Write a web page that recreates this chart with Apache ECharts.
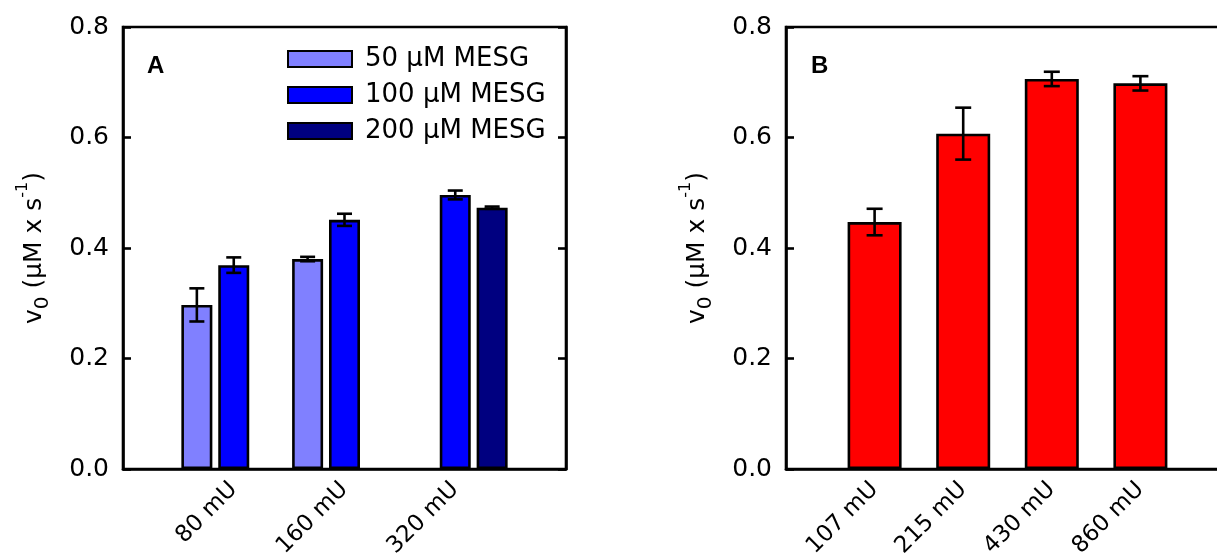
<!DOCTYPE html>
<html>
<head>
<meta charset="utf-8">
<script src="https://cdn.jsdelivr.net/npm/echarts@6/dist/echarts.min.js"></script>
<style>
  html, body { margin: 0; padding: 0; background: #fff; }
  #main { width: 1217px; height: 558px; }
</style>
</head>
<body>
<div id="main"></div>
<script>
// panel A: enzyme amount vs MESG concentration
const catsA = ["80 mU", "160 mU", "320 mU"];
const mesg50 = [0.297, 0.380, "-"];
const mesg50Err = [0.030, 0.004, "-"];
const mesg100 = [0.369, 0.451, 0.496];
const mesg100Err = [0.014, 0.011, 0.008];
const mesg200 = ["-", "-", 0.473];
const mesg200Err = ["-", "-", 0.002];

// panel B
const catsB = ["107 mU", "215 mU", "430 mU", "860 mU"];
const valuesB = [0.447, 0.607, 0.706, 0.698];
const errB = [0.024, 0.047, 0.013, 0.013];

const yTicks = [0, 0.2, 0.4, 0.6, 0.8];

const FONT = "DejaVu Sans";
const LW = 2.6;
const pad = (arr) => ["-", ...arr, "-"];
const padCats = (arr) => ["", ...arr, ""];

const barWA = 31, gapA = 0.19;
const barWB = 54;

function errorSeries(name, cats, vals, errs, xIdx, offset, cap) {
	const data = [];
	cats.forEach((c, i) => {
		if (vals[i] === "-") return;
		data.push([c, vals[i], errs[i]]);
	});
	return {
		type: "custom",
		name,
		xAxisIndex: xIdx,
		yAxisIndex: xIdx * 2,
		z: 5,
		encode: { x: 0, y: 1 },
		renderItem: (params, api) => {
			const v = api.value(1);
			const e = api.value(2);
			const hi = api.coord([api.value(0), v + e]);
			const lo = api.coord([api.value(0), v - e]);
			const x = hi[0] + offset;
			const style = { stroke: "#000", lineWidth: LW };
			return {
				type: "group",
				children: [
					{ type: "line", shape: { x1: x, y1: hi[1], x2: x, y2: lo[1] }, style },
					{ type: "line", shape: { x1: x - cap / 2, y1: hi[1], x2: x + cap / 2, y2: hi[1] }, style },
					{ type: "line", shape: { x1: x - cap / 2, y1: lo[1], x2: x + cap / 2, y2: lo[1] }, style },
				],
			};
		},
		data,
	};
}

const yName = "{m|v}{sub|0}{m| (\u00b5M x s}{sup|-1}{m|)}";
const yNameStyle = {
	color: "#000",
	rich: {
		m: { fontFamily: FONT, fontSize: 25, color: "#000", lineHeight: 38, verticalAlign: "middle" },
		sub: { fontFamily: FONT, fontSize: 20, color: "#000", lineHeight: 20, verticalAlign: "bottom" },
		sup: { fontFamily: FONT, fontSize: 16, color: "#000", lineHeight: 16, verticalAlign: "top" },
	},
};

function xAxisFor(cats, gridIndex) {
	return {
		type: "category",
		gridIndex,
		data: padCats(cats),
		boundaryGap: false,
		axisLine: { lineStyle: { color: "#000", width: LW } },
		axisTick: { show: false },
		axisLabel: {
			interval: 0,
			rotate: 45,
			margin: 17,
			color: "#000",
			fontFamily: FONT,
			fontSize: 23,
		},
		splitLine: { show: false },
	};
}

function yAxesFor(gridIndex) {
	const common = {
		type: "value",
		gridIndex,
		min: 0,
		max: 0.8,
		interval: 0.2,
		splitLine: { show: false },
		axisLine: { show: true, lineStyle: { color: "#000", width: LW } },
		axisTick: { show: true, inside: true, length: 8, lineStyle: { color: "#000", width: LW } },
	};
	return [
		{
			...common,
			position: "left",
			name: yName,
			nameLocation: "middle",
			nameRotate: 90,
			nameGap: 70,
			nameTextStyle: yNameStyle,
			axisLabel: {
				margin: 14,
				color: "#000",
				fontFamily: FONT,
				fontSize: 25,
				formatter: (v) => (yTicks.includes(+v.toFixed(1)) ? v.toFixed(1) : ""),
			},
		},
		{ ...common, position: "right", axisLabel: { show: false } },
	];
}

const barStyle = (color) => ({ color, borderColor: "#000", borderWidth: LW });
const stepA = barWA * (1 + gapA);
const panelLabel = { fontFamily: "Liberation Sans", fontWeight: "bold", fontSize: 24, color: "#000" };

const option = {
	animation: false,
	backgroundColor: "#fff",
	title: [
		{ text: "A", left: 142, top: 49, textStyle: panelLabel },
		{ text: "B", left: 806, top: 49, textStyle: panelLabel },
	],
	legend: {
		data: ["50 \u00b5M MESG", "100 \u00b5M MESG", "200 \u00b5M MESG"],
		orient: "vertical",
		left: 282,
		top: 41,
		icon: "rect",
		itemWidth: 64,
		itemHeight: 16,
		itemGap: 10,
		textStyle: { fontFamily: FONT, fontSize: 26, color: "#000", padding: [0, 0, 0, 8] },
	},
	grid: [
		{ left: 123, top: 27, width: 443, height: 442, show: true, borderColor: "#000", borderWidth: LW, outerBoundsMode: "none" },
		{ left: 786, top: 27, width: 443, height: 442, show: true, borderColor: "#000", borderWidth: LW, outerBoundsMode: "none" },
	],
	xAxis: [xAxisFor(catsA, 0), xAxisFor(catsB, 1)],
	yAxis: [...yAxesFor(0), ...yAxesFor(1)],
	series: [
		{ name: "50 \u00b5M MESG", type: "bar", xAxisIndex: 0, yAxisIndex: 0, barWidth: barWA, barGap: gapA * 100 + "%", itemStyle: barStyle("#8080ff"), data: pad(mesg50) },
		{ name: "100 \u00b5M MESG", type: "bar", xAxisIndex: 0, yAxisIndex: 0, barWidth: barWA, barGap: gapA * 100 + "%", itemStyle: barStyle("#0000ff"), data: pad(mesg100) },
		{ name: "200 \u00b5M MESG", type: "bar", xAxisIndex: 0, yAxisIndex: 0, barWidth: barWA, barGap: gapA * 100 + "%", itemStyle: barStyle("#000080"), data: pad(mesg200) },
		errorSeries("e50", catsA, mesg50, mesg50Err, 0, -stepA, 15),
		errorSeries("e100", catsA, mesg100, mesg100Err, 0, 0, 15),
		errorSeries("e200", catsA, mesg200, mesg200Err, 0, stepA, 15),
		{ name: "B", type: "bar", xAxisIndex: 1, yAxisIndex: 2, barWidth: barWB, itemStyle: barStyle("#ff0000"), data: pad(valuesB) },
		errorSeries("eB", catsB, valuesB, errB, 1, 0, 16),
	],
};

const chart = echarts.init(document.getElementById("main"));
chart.setOption(option);
</script>
</body>
</html>
